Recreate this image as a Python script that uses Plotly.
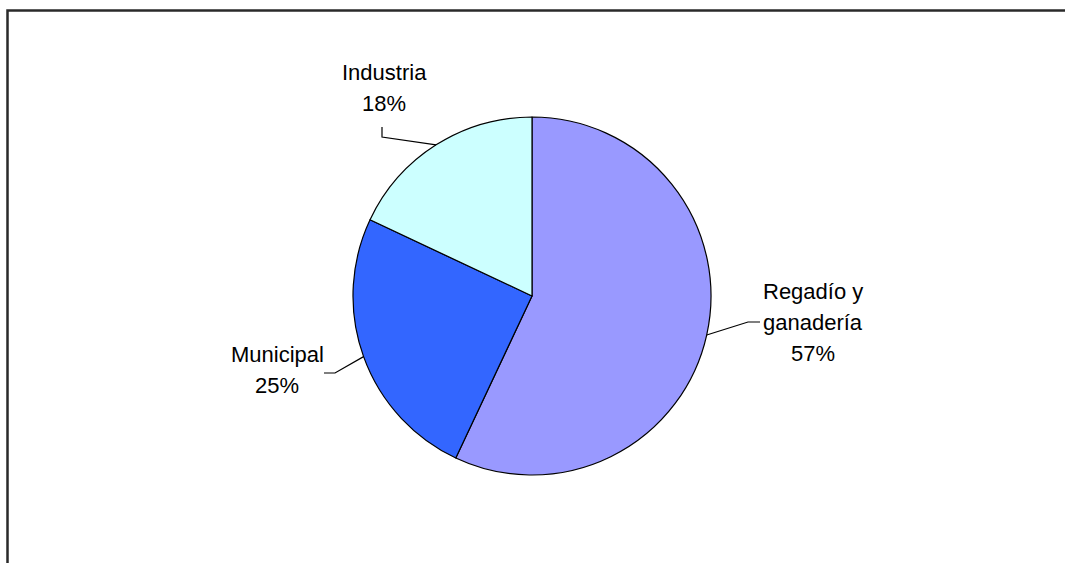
import math
import plotly.graph_objects as go

# ---- data ----
categories = ["Regadío y ganadería", "Municipal", "Industria"]
label_lines = [["Regadío y", "ganadería"], ["Municipal"], ["Industria"]]
values = [57, 25, 18]
colors = ["#9999FF", "#3366FF", "#CCFFFF"]

# ---- layout geometry (pixels) ----
W, H = 1065, 563
cx, cy, R = 532, 296, 179
# label block centers (pixels) and leader-line elbow/end points
label_centers = [(813, 322), (277, 370), (384, 88)]
elbows = [[(748, 322), (760, 322)], [(335, 373), (324, 373)], [(382, 137), (382, 127)]]
line_step = 31
font = dict(family="Liberation Sans, Arial, sans-serif", size=22, color="#000000")


def px(x):
    return x / W


def py(y):
    return 1 - y / H


fig = go.Figure(go.Pie(
    labels=categories,
    values=values,
    sort=False,
    direction="clockwise",
    rotation=0,
    marker=dict(colors=colors, line=dict(color="#000000", width=1.2)),
    textinfo="none",
    hoverinfo="label+percent",
    showlegend=False,
    domain=dict(x=[px(cx - R), px(cx + R)], y=[py(cy + R), py(cy - R)]),
))

total = sum(values)
annotations = []
shapes = []
cum = 0
for i, v in enumerate(values):
    pct = round(100 * v / total)
    mid = (cum + v / 2) / total * 2 * math.pi  # clockwise from 12 o'clock
    cum += v
    ex = cx + R * math.sin(mid)
    ey = cy - R * math.cos(mid)
    pts = [(ex, ey)] + elbows[i]
    path = "M " + " L ".join(f"{px(x)},{py(y)}" for x, y in pts)
    shapes.append(dict(type="path", xref="paper", yref="paper", path=path,
                       line=dict(color="#000000", width=1.2)))
    lines = label_lines[i] + [f"{pct}%"]
    lx, lyc = label_centers[i]
    n = len(lines)
    for k, t in enumerate(lines):
        yy = lyc + (k - (n - 1) / 2) * line_step
        annotations.append(dict(text=t, x=px(lx), y=py(yy), xref="paper", yref="paper",
                                showarrow=False, xanchor="center", yanchor="middle",
                                font=font))

# outer frame (extends past right and bottom edges)
shapes.append(dict(type="rect", xref="paper", yref="paper",
                   x0=px(7.5), y0=py(10.5), x1=1.05, y1=-0.05,
                   line=dict(color="#2a2a2a", width=2.5), fillcolor="rgba(0,0,0,0)"))

fig.update_layout(
    width=W, height=H,
    margin=dict(l=0, r=0, t=0, b=0),
    paper_bgcolor="#FFFFFF",
    plot_bgcolor="#FFFFFF",
    annotations=annotations,
    shapes=shapes,
)

fig.write_html("out.html", config={"displayModeBar": False},
               post_script="document.body.style.margin='0';document.body.style.overflow='hidden';")
